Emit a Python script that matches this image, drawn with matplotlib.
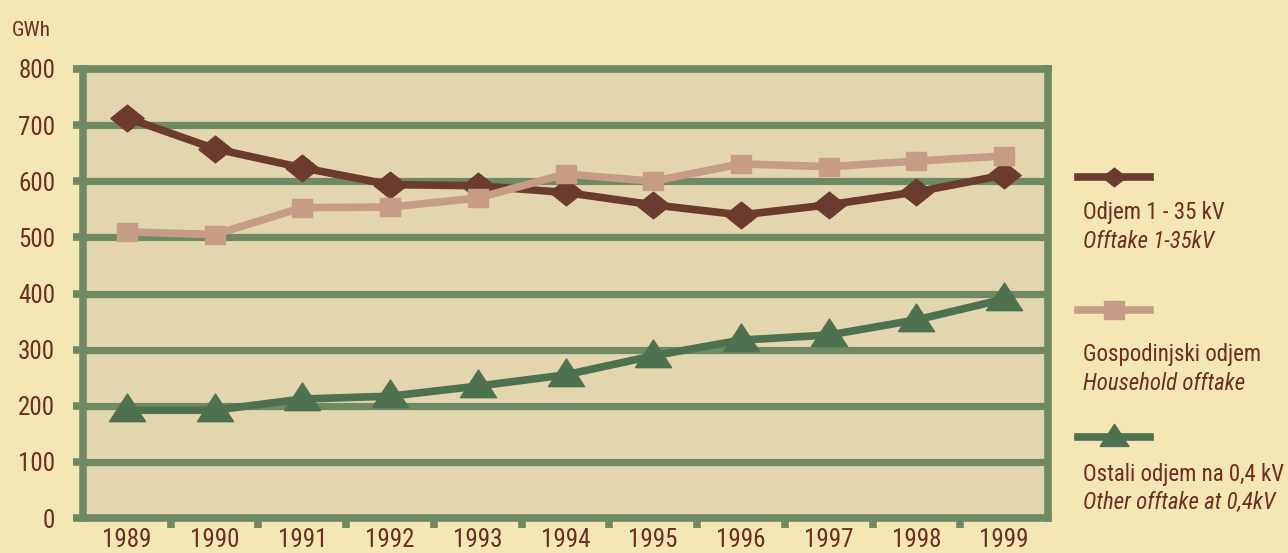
import numpy as np
import matplotlib
matplotlib.use("Agg")
import matplotlib.pyplot as plt
from matplotlib.lines import Line2D
from matplotlib import font_manager as fm

# data (GWh)
years = ['1989', '1990', '1991', '1992', '1993', '1994', '1995', '1996', '1997', '1998', '1999']
offtake_1_35kv = [713, 658, 624, 594, 592, 580, 558, 540, 558, 581, 611]
household = [510, 505, 553, 554, 570, 613, 600, 631, 626, 636, 645]
other_04kv = [192, 192, 212, 217, 235, 255, 289, 317, 326, 353, 390]
y_ticks = [0, 100, 200, 300, 400, 500, 600, 700, 800]

legend_lines = [
    ("Odjem 1 - 35 kV", "Offtake 1-35kV"),
    ("Gospodinjski odjem", "Household offtake"),
    ("Ostali odjem na 0,4 kV", "Other offtake at 0,4kV"),
]

# pick a narrow font if one is installed
names = {f.name for f in fm.fontManager.ttflist}
condensed = [f for f in fm.fontManager.ttflist
             if f.name == 'DejaVu Sans' and 'condensed' in str(f.stretch)]
stretch = 'normal'
if 'Liberation Sans Narrow' in names:
    family = 'Liberation Sans Narrow'
elif 'Roboto Condensed' in names:
    family = 'Roboto Condensed'
elif condensed:
    family = 'DejaVu Sans'
    stretch = 'condensed'
elif 'Liberation Sans' in names:
    family = 'Liberation Sans'
else:
    family = 'DejaVu Sans'
plt.rcParams['font.family'] = [family, 'DejaVu Sans']
plt.rcParams['font.stretch'] = stretch

# colours
fig_bg = '#F5E6B6'
plot_bg = '#E3D6AE'
grid_green = '#6F8A63'
text_col = '#6A2E22'
c_dark = '#6B3B2E'
c_light = '#C69C84'
c_green = '#4E7150'

diamond = [(-1.25, 0), (0, 1), (1.25, 0), (0, -1), (-1.25, 0)]
square = [(-1, -0.9), (1, -0.9), (1, 0.9), (-1, 0.9), (-1, -0.9)]
triangle = [(-1.1, -0.68), (0, 1.0), (1.1, -0.68), (-1.1, -0.68)]

series = [
    (offtake_1_35kv, c_dark, diamond, 24, 0.7),
    (household, c_light, square, 14, 1.05),
    (other_04kv, c_green, triangle, 26, 0.8),
]

W, H = 1288, 553
fig = plt.figure(figsize=(W / 100, H / 100), dpi=100, facecolor=fig_bg)

def fx(px):
    return px / W

def fy(py):
    return 1 - py / H

ax = fig.add_axes([fx(83), fy(518), fx(1048) - fx(83), fy(69) - fy(518)])
ax.set_facecolor(plot_bg)

x = np.arange(len(years))
ax.set_xlim(-0.5, len(years) - 0.5)
ax.set_ylim(0, 800)

for v in y_ticks[1:-1]:
    ax.axhline(v, color=grid_green, lw=5.2, zorder=1)

for sp in ax.spines.values():
    sp.set_color(grid_green)
    sp.set_linewidth(5.5)

for vals, col, mk, ms, _ in series:
    ax.plot(x, vals, color=col, lw=5.5, marker=mk, markersize=ms,
            markerfacecolor=col, markeredgecolor=col, zorder=3,
            solid_joinstyle='round', clip_on=False)

ax.set_yticks(y_ticks)
ax.set_yticklabels([str(v) for v in y_ticks])
ax.set_xticks(x)
ax.set_xticklabels(years)
ax.set_xticks(x[:-1] + 0.5, minor=True)
ax.tick_params(axis='y', which='major', length=7, width=5.5, color=grid_green,
               labelsize=18, labelcolor=text_col, pad=13)
ax.tick_params(axis='x', which='major', length=0, labelsize=18,
               labelcolor=text_col, pad=7)
ax.tick_params(axis='x', which='minor', length=7, width=5.5, color=grid_green)

gwh = fig.text(fx(12), fy(31), 'GWh', fontsize=16, color=text_col, va='center', ha='left')

# legend drawn by hand at the right
sample_y = [177, 310, 437]
label_y = [(213, 242), (355, 383), (475, 503)]
legend_texts = []
for (vals, col, mk, ms, lscale), sy, (ly1, ly2), (lab1, lab2) in zip(series, sample_y, label_y, legend_lines):
    fig.add_artist(Line2D([fx(1078), fx(1150)], [fy(sy), fy(sy)], color=col, lw=5.5,
                          transform=fig.transFigure))
    fig.add_artist(Line2D([fx(1114)], [fy(sy)], marker=mk, markersize=ms * lscale,
                          color=col, markerfacecolor=col, markeredgecolor=col,
                          transform=fig.transFigure, lw=0))
    legend_texts.append(fig.text(fx(1083), fy(ly1), lab1, fontsize=17, color=text_col,
                                 va='center', ha='left'))
    legend_texts.append(fig.text(fx(1083), fy(ly2), lab2, fontsize=17, color=text_col,
                                 va='center', ha='left', style='italic'))

# keep the widest legend line inside the figure
fig.canvas.draw()
r = fig.canvas.get_renderer()
w_max = max(t.get_window_extent(r).width for t in legend_texts)
if w_max > 202:
    for t in legend_texts:
        t.set_fontsize(17 * 202.0 / w_max)
w_gwh = gwh.get_window_extent(r).width
gwh.set_fontsize(16 * 39.0 / w_gwh)

fig.savefig('out.png', dpi=100, facecolor=fig_bg)
